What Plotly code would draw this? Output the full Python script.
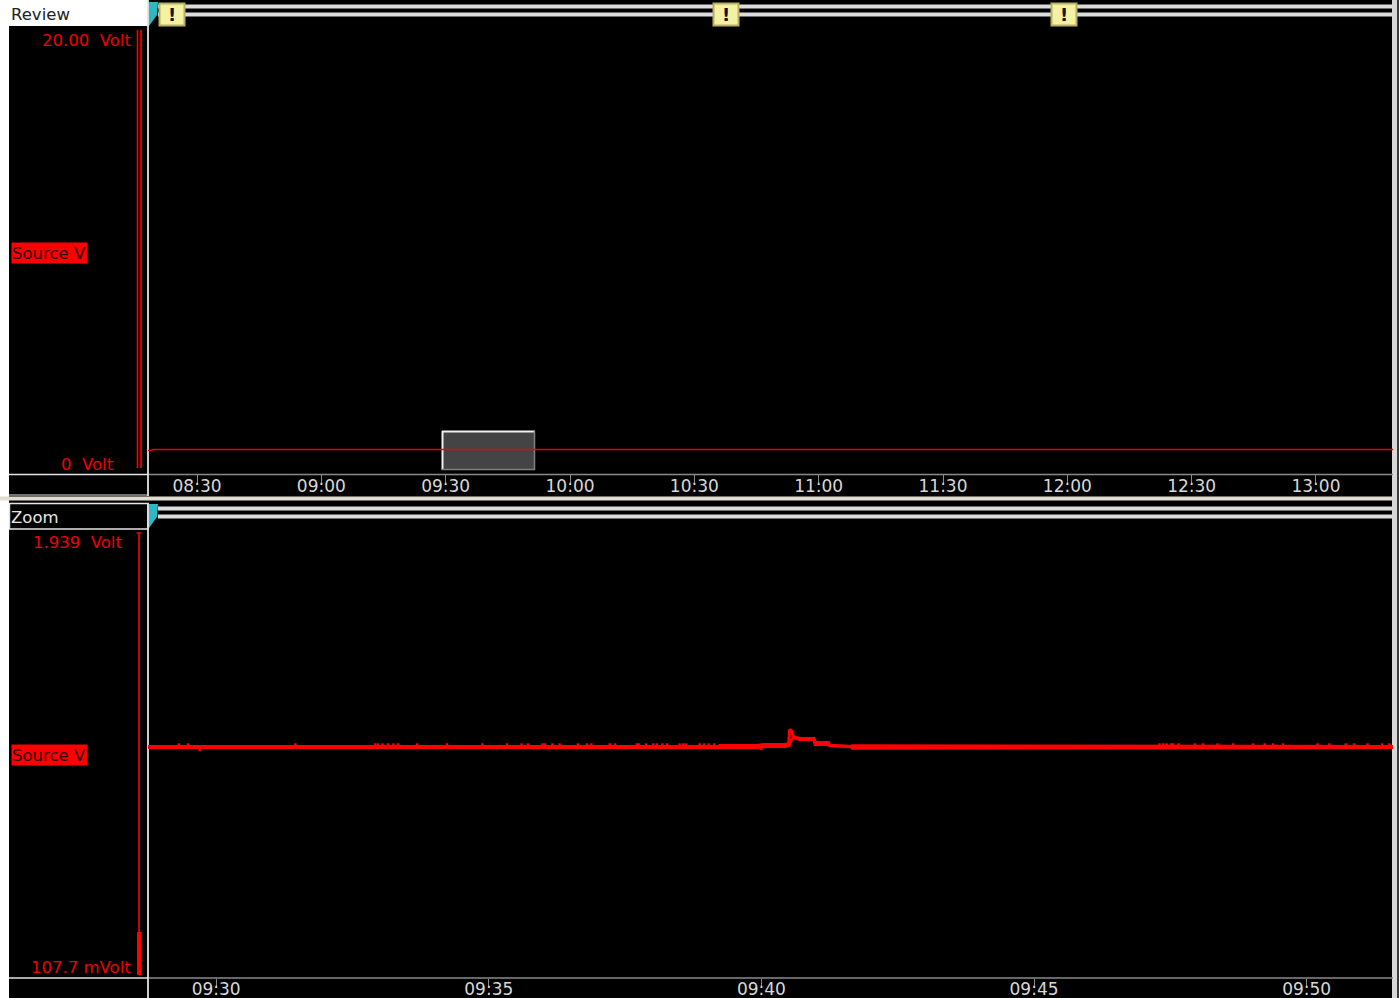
import plotly.graph_objects as go

W, H = 1399, 998
DAY = "2012-03-14 "

REVIEW_TICKS = ["08:30", "09:00", "09:30", "10:00", "10:30", "11:00", "11:30", "12:00", "12:30", "13:00"]
ZOOM_TICKS = ["09:30", "09:35", "09:40", "09:45", "09:50"]

REVIEW_TIMES = ["08:18:10", "08:18:40", "08:19:30", "09:39:30", "09:40:30", "09:41:30", "11:45:00", "11:45:44", "11:46:30", "13:18:35"]
REVIEW_VOLTS = [0.80, 0.80, 0.845, 0.845, 0.875, 0.845, 0.845, 0.87, 0.845, 0.845]

ZOOM_TIMES = ["09:28:45", "09:39:13", "09:39:14", "09:39:55", "09:40:02", "09:40:26", "09:40:30", "09:40:31", "09:40:33",
              "09:40:35", "09:40:42", "09:40:58", "09:40:59", "09:41:14", "09:41:15", "09:41:38", "09:41:40", "09:47:16",
              "09:47:17", "09:51:35"]
ZOOM_UPPER = [1.0523, 1.0523, 1.0565, 1.0565, 1.0606, 1.0606, 1.0648, 1.1226, 1.1165,
              1.0937, 1.0854, 1.0854, 1.0689, 1.0689, 1.0565, 1.0523, 1.0552, 1.0552,
              1.0523, 1.0523]
ZOOM_LOWER = [1.0482, 1.0482, 1.0482, 1.0482, 1.0523, 1.0523, 1.0565, 1.0585, 1.0792,
              1.0895, 1.0813, 1.0813, 1.0606, 1.0606, 1.0565, 1.0523, 1.0453, 1.0453,
              1.0482, 1.0482]

SPIKE_TIMES = ["09:29:19", "09:29:29", "09:31:27", "09:32:55", "09:32:58", "09:33:03", "09:33:09", "09:33:15",
               "09:33:20", "09:33:41", "09:34:14", "09:34:53", "09:35:20", "09:35:36", "09:35:43", "09:35:59",
               "09:36:02", "09:36:10", "09:36:18", "09:36:38", "09:36:48", "09:36:53", "09:37:13", "09:37:19",
               "09:37:43", "09:37:45", "09:37:53", "09:38:01", "09:38:05", "09:38:11", "09:38:16", "09:38:30",
               "09:38:34", "09:38:37", "09:38:52", "09:38:57", "09:39:02", "09:39:08",
               "09:47:18", "09:47:22", "09:47:26", "09:47:31", "09:47:33", "09:47:39", "09:47:57", "09:48:06",
               "09:48:22", "09:48:39", "09:49:01", "09:49:14", "09:49:23", "09:49:34", "09:50:12", "09:50:25",
               "09:50:43", "09:50:52", "09:51:07", "09:51:23", "09:51:31"]
SPIKE_VOLTS = [1.0606] * 59
DIP_TIMES = ["09:29:42", "09:40:00"]
DIP_VOLTS = [1.0379, 1.0420]

FONT = "DejaVu Sans"
RED = "#ff0000"
LIGHT = "#e4e4e4"
GREY = "#8a8a8a"


def stamp(values):
    return [DAY + v for v in values]


def px(x):
    return x / W


def py(y):
    return 1 - y / H


shapes = []


def rect(x0, y0, x1, y1, fill, line=None, lw=1):
    shapes.append(dict(type="rect", xref="paper", yref="paper", x0=px(x0), x1=px(x1), y0=py(y0), y1=py(y1),
                       fillcolor=fill, line=dict(color=line or fill, width=lw if line else 0), layer="below"))


def seg(x0, y0, x1, y1, color, lw=1):
    shapes.append(dict(type="line", xref="paper", yref="paper", x0=px(x0), x1=px(x1), y0=py(y0), y1=py(y1),
                       line=dict(color=color, width=lw), layer="below"))


def flag(yt):
    shapes.append(dict(type="path", xref="paper", yref="paper",
                       path=f"M {px(148)} {py(yt)} L {px(158)} {py(yt)} L {px(157)} {py(yt + 13)} "
                            f"L {px(149)} {py(yt + 24)} L {px(148)} {py(yt + 24)} Z",
                       fillcolor="#2fb8c4", line=dict(width=0), layer="below"))


# outer frame
rect(0, 0, 9, H, "#ffffff")
rect(1392, 0, 1397, H, "#d8d8d8")
rect(1397, 0, W, H, "#3c3c3c")

# Review header
rect(9, 0, 148, 26, "#ffffff")
seg(158, 6.5, 1392, 6.5, "#dcdcdc", 4)
seg(158, 14.5, 1392, 14.5, "#dcdcdc", 4)
flag(2)

# Review footer
seg(9, 474.5, 148, 474.5, LIGHT, 1.5)
seg(148, 474.5, 1393, 474.5, GREY, 1.5)
seg(9, 495, 148, 495, LIGHT, 1.2)
rect(0, 496.5, 1392, 500.5, "#dfdcd2")

# Zoom header
rect(9.5, 503.5, 148, 529, "#000000", LIGHT, 1.5)
seg(158, 508.5, 1392, 508.5, "#dcdcdc", 4)
seg(158, 516.5, 1392, 516.5, "#dcdcdc", 4)
flag(504)

# Zoom footer
seg(9, 978, 148, 978, LIGHT, 1.5)
seg(148, 978, 1393, 978, GREY, 1.5)

# vertical divider
seg(148, 0, 148, 496, LIGHT, 1.8)
seg(148, 503, 148, H, LIGHT, 1.8)

# scale bars
seg(137.5, 30, 137.5, 468, RED, 1.6)
seg(141, 30, 141, 468, RED, 1.6)
seg(139, 533, 139, 932, RED, 1.6)
seg(136.5, 533, 141.5, 533, RED, 1.4)
rect(137, 932, 141.5, 975, RED)

# range brush
rect(442, 431, 535, 470, "#444444")
seg(442, 431.5, 535, 431.5, "#f0f0f0", 2)
seg(442.5, 431, 442.5, 470, "#f0f0f0", 2)
seg(534.5, 431, 534.5, 470, "#808080", 1.5)
seg(442, 469.5, 535, 469.5, "#808080", 1.5)

annotations = []


def label(x, y, text, color, size=16.5, anchor="right", **kw):
    annotations.append(dict(xref="paper", yref="paper", x=px(x), y=py(y), text=text, showarrow=False,
                            xanchor=anchor, yanchor="middle", font=dict(family=FONT, size=size, color=color), **kw))


label(9, 15, "Review", "#222222", anchor="left")
label(9, 517, "Zoom", "#e8e8e8", anchor="left")
label(133, 40, "20.00&nbsp;&nbsp;Volt", "#f00000")
label(116, 464, "0&nbsp;&nbsp;Volt", "#f00000")
label(124, 542, "1.939&nbsp;&nbsp;Volt", "#f00000")
label(133, 967, "107.7 mVolt", "#f00000")
for yc in (253, 755):
    label(11, yc, "Source V", "#300000", anchor="left", bgcolor=RED, width=75, height=20, align="left", borderpad=0)

# event markers
for xc in (172, 726, 1064):
    rect(159.5 + xc - 172, 3.5, 184.5 + xc - 172, 25.5, "#f4f0a4", "#b8b060", 2)
    label(xc, 14, "<b>!</b>", "#111111", size=18, anchor="center")

fig = go.Figure()
fig.add_trace(go.Scatter(x=stamp(REVIEW_TIMES), y=REVIEW_VOLTS, mode="lines", line=dict(color="#f00000", width=1.4),
                         xaxis="x", yaxis="y", hoverinfo="skip"))
for series in (ZOOM_UPPER, ZOOM_LOWER):
    fig.add_trace(go.Scatter(x=stamp(ZOOM_TIMES), y=series, mode="lines", line=dict(color=RED, width=3),
                             xaxis="x2", yaxis="y2", hoverinfo="skip"))
fig.add_trace(go.Scatter(x=stamp(SPIKE_TIMES + DIP_TIMES), y=SPIKE_VOLTS + DIP_VOLTS, mode="markers",
                         marker=dict(color=RED, size=2.4, symbol="square", line=dict(width=0)),
                         xaxis="x2", yaxis="y2", hoverinfo="skip"))

xcommon = dict(domain=[px(148), px(1393)], type="date", showgrid=False, zeroline=False, showline=False,
               automargin=False, ticks="outside", ticklen=8, tickwidth=1, tickcolor=GREY,
               tickfont=dict(family=FONT, size=17, color="#d8d8d8"), tickangle=0)
ycommon = dict(visible=False, showgrid=False, zeroline=False, automargin=False)

fig.update_layout(
    width=W, height=H, autosize=False, margin=dict(l=0, r=0, t=0, b=0),
    paper_bgcolor="#000000", plot_bgcolor="#000000", showlegend=False,
    shapes=shapes, annotations=annotations,
    xaxis=dict(xcommon, anchor="y", range=[DAY + "08:18:10", DAY + "13:18:35"], ticklabelstandoff=-11,
               tickvals=stamp(REVIEW_TICKS), ticktext=REVIEW_TICKS),
    yaxis=dict(ycommon, domain=[py(474), py(25)], range=[-0.274, 20.228]),
    xaxis2=dict(xcommon, anchor="y2", range=[DAY + "09:28:45", DAY + "09:51:35"], ticklabelstandoff=-12,
                tickvals=stamp(ZOOM_TICKS), ticktext=ZOOM_TICKS),
    yaxis2=dict(ycommon, domain=[py(978), py(528)], range=[0.0953, 1.9555]),
)

fig.write_html("out.html", config=dict(displayModeBar=False),
               post_script="document.body.style.margin='0';document.body.style.overflow='hidden';")
